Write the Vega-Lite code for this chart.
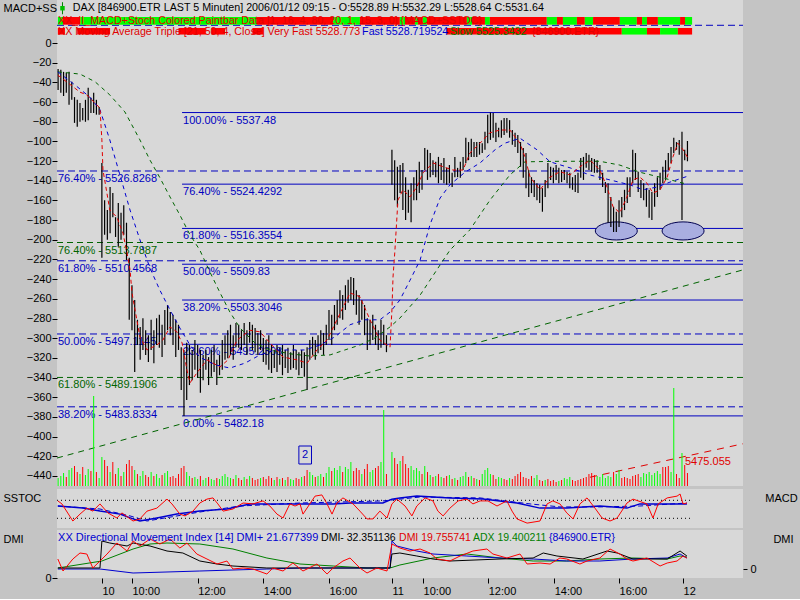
{
"$schema":"https://vega.github.io/schema/vega-lite/v6.json",
"background":"#c4c4c4",
"padding":{"left":3,"right":4,"top":0,"bottom":3},
"spacing":2,
"config":{"font":"Liberation Sans","view":{"stroke":null},
 "axis":{"labelFont":"Liberation Sans","labelFontSize":11,"labelColor":"#000","tickColor":"#000","domain":false,"grid":false,"titleFont":"Liberation Sans","titleFontSize":11,"titleFontWeight":"normal","titleColor":"#000","labelOverlap":false,"labelFlush":false},
 "text":{"font":"Liberation Sans","fontSize":11}},
"resolve":{"scale":{"x":"independent","y":"independent","color":"independent"}},
"datasets":{
"bars":[
{"t":-15,"h":5545.4,"l":5541.6,"v":8,"d":"g"},{"t":-14,"h":5545.3,"l":5541.1,"v":10,"d":"g"},{"t":-13,"h":5544.9,"l":5540.5,"v":13,"d":"g"},{"t":-12,"h":5544.7,"l":5541.1,"v":9,"d":"r"},{"t":-11,"h":5544.9,"l":5538.9,"v":16,"d":"g"},{"t":-10,"h":5543.1,"l":5539.8,"v":18,"d":"g"},{"t":-9,"h":5540.3,"l":5535.6,"v":20,"d":"r"},{"t":-8,"h":5539.8,"l":5534.9,"v":14,"d":"r"},{"t":-7,"h":5539.2,"l":5535.8,"v":12,"d":"g"},{"t":-6,"h":5538.3,"l":5536.1,"v":19,"d":"r"},{"t":-5,"h":5539.8,"l":5535.8,"v":11,"d":"g"},{"t":-4,"h":5542.0,"l":5536.1,"v":17,"d":"g"},{"t":-3,"h":5540.2,"l":5537.4,"v":15,"d":"r"},{"t":-2,"h":5541.1,"l":5537.4,"v":90,"d":"g"},{"t":-1,"h":5539.8,"l":5537.1,"v":14,"d":"r"},{"t":0,"h":5538.5,"l":5537.1,"v":8,"d":"g"},
{"t":1,"h":5528.3,"l":5511.0,"v":29,"d":"g"},{"t":2,"h":5521.5,"l":5515.2,"v":26,"d":"r"},{"t":3,"h":5519.7,"l":5514.3,"v":20,"d":"r"},{"t":4,"h":5523.9,"l":5515.5,"v":14,"d":"g"},{"t":5,"h":5522.8,"l":5518.4,"v":24,"d":"r"},{"t":6,"h":5518.4,"l":5514.8,"v":12,"d":"r"},{"t":7,"h":5521.0,"l":5513.0,"v":18,"d":"g"},{"t":8,"h":5519.2,"l":5514.3,"v":10,"d":"r"},{"t":9,"h":5520.6,"l":5515.2,"v":14,"d":"g"},{"t":10,"h":5517.4,"l":5510.6,"v":22,"d":"r"},
{"t":11,"h":5511.0,"l":5499.7,"v":26,"d":"r"},{"t":12,"h":5506.0,"l":5497.8,"v":20,"d":"r"},{"t":13,"h":5503.3,"l":5490.2,"v":16,"d":"g"},{"t":14,"h":5499.7,"l":5495.1,"v":12,"d":"r"},{"t":15,"h":5498.4,"l":5492.4,"v":10,"d":"g"},{"t":16,"h":5500.0,"l":5494.2,"v":15,"d":"g"},{"t":17,"h":5497.8,"l":5493.3,"v":11,"d":"r"},{"t":18,"h":5496.9,"l":5492.0,"v":9,"d":"r"},{"t":19,"h":5499.7,"l":5494.2,"v":14,"d":"g"},{"t":20,"h":5497.8,"l":5491.8,"v":10,"d":"r"},
{"t":21,"h":5500.0,"l":5495.1,"v":12,"d":"g"},{"t":22,"h":5500.6,"l":5494.6,"v":8,"d":"g"},{"t":23,"h":5498.8,"l":5492.9,"v":11,"d":"r"},{"t":24,"h":5501.5,"l":5495.1,"v":13,"d":"g"},{"t":25,"h":5502.4,"l":5497.8,"v":15,"d":"g"},{"t":26,"h":5501.1,"l":5496.9,"v":9,"d":"r"},{"t":27,"h":5500.6,"l":5495.1,"v":10,"d":"r"},{"t":28,"h":5499.7,"l":5492.9,"v":8,"d":"r"},{"t":29,"h":5498.8,"l":5494.2,"v":12,"d":"r"},{"t":30,"h":5494.7,"l":5486.9,"v":18,"d":"r"},
{"t":31,"h":5494.2,"l":5482.18,"v":20,"d":"r"},{"t":32,"h":5495.5,"l":5485.1,"v":14,"d":"g"},{"t":33,"h":5495.1,"l":5487.8,"v":10,"d":"g"},{"t":34,"h":5494.2,"l":5488.7,"v":8,"d":"r"},{"t":35,"h":5496.0,"l":5490.6,"v":9,"d":"g"},{"t":36,"h":5495.1,"l":5489.1,"v":7,"d":"g"},{"t":37,"h":5494.2,"l":5486.4,"v":10,"d":"r"},{"t":38,"h":5493.3,"l":5488.7,"v":6,"d":"g"},{"t":39,"h":5494.2,"l":5490.6,"v":8,"d":"g"},{"t":40,"h":5492.9,"l":5487.8,"v":9,"d":"r"},
{"t":41,"h":5494.2,"l":5489.3,"v":7,"d":"g"},{"t":42,"h":5495.1,"l":5490.2,"v":6,"d":"g"},{"t":43,"h":5492.4,"l":5487.8,"v":8,"d":"r"},{"t":44,"h":5493.3,"l":5489.6,"v":7,"d":"g"},{"t":45,"h":5496.0,"l":5490.6,"v":10,"d":"g"},{"t":46,"h":5496.9,"l":5492.4,"v":12,"d":"g"},{"t":47,"h":5497.8,"l":5492.7,"v":9,"d":"g"},{"t":48,"h":5498.8,"l":5493.3,"v":8,"d":"g"},{"t":49,"h":5496.9,"l":5492.4,"v":7,"d":"r"},{"t":50,"h":5499.1,"l":5494.7,"v":11,"d":"g"},
{"t":51,"h":5498.8,"l":5494.6,"v":8,"d":"r"},{"t":52,"h":5497.8,"l":5494.2,"v":6,"d":"r"},{"t":53,"h":5499.1,"l":5495.1,"v":9,"d":"g"},{"t":54,"h":5497.8,"l":5493.3,"v":7,"d":"r"},{"t":55,"h":5499.3,"l":5495.5,"v":10,"d":"g"},{"t":56,"h":5498.8,"l":5494.2,"v":8,"d":"r"},{"t":57,"h":5498.2,"l":5493.8,"v":6,"d":"r"},{"t":58,"h":5497.3,"l":5493.3,"v":7,"d":"r"},{"t":59,"h":5497.8,"l":5494.2,"v":8,"d":"g"},{"t":60,"h":5496.4,"l":5492.0,"v":9,"d":"r"},
{"t":61,"h":5496.0,"l":5491.5,"v":7,"d":"r"},{"t":62,"h":5496.9,"l":5490.6,"v":10,"d":"r"},{"t":63,"h":5495.1,"l":5490.0,"v":8,"d":"r"},{"t":64,"h":5494.2,"l":5490.9,"v":6,"d":"g"},{"t":65,"h":5495.1,"l":5490.2,"v":9,"d":"r"},{"t":66,"h":5494.6,"l":5491.5,"v":7,"d":"g"},{"t":67,"h":5495.1,"l":5489.6,"v":8,"d":"r"},{"t":68,"h":5494.2,"l":5490.9,"v":6,"d":"g"},{"t":69,"h":5494.6,"l":5490.0,"v":9,"d":"r"},{"t":70,"h":5493.8,"l":5490.6,"v":7,"d":"g"},
{"t":71,"h":5495.1,"l":5490.9,"v":6,"d":"g"},{"t":72,"h":5494.2,"l":5490.6,"v":8,"d":"r"},{"t":73,"h":5493.8,"l":5489.6,"v":7,"d":"r"},{"t":74,"h":5494.2,"l":5490.9,"v":9,"d":"g"},{"t":75,"h":5493.8,"l":5489.3,"v":10,"d":"r"},{"t":76,"h":5494.7,"l":5486.9,"v":16,"d":"r"},{"t":77,"h":5496.0,"l":5492.4,"v":14,"d":"g"},{"t":78,"h":5496.6,"l":5493.3,"v":11,"d":"g"},{"t":79,"h":5496.0,"l":5492.4,"v":9,"d":"r"},{"t":80,"h":5496.9,"l":5493.6,"v":10,"d":"g"},
{"t":81,"h":5497.8,"l":5494.2,"v":12,"d":"g"},{"t":82,"h":5497.3,"l":5493.3,"v":9,"d":"r"},{"t":83,"h":5498.8,"l":5495.1,"v":13,"d":"g"},{"t":84,"h":5501.5,"l":5496.0,"v":19,"d":"g"},{"t":85,"h":5500.6,"l":5495.1,"v":15,"d":"r"},{"t":86,"h":5502.4,"l":5497.8,"v":18,"d":"g"},{"t":87,"h":5503.3,"l":5498.8,"v":16,"d":"g"},{"t":88,"h":5505.1,"l":5500.0,"v":20,"d":"g"},{"t":89,"h":5504.2,"l":5499.7,"v":14,"d":"r"},{"t":90,"h":5506.0,"l":5501.5,"v":19,"d":"g"},
{"t":91,"h":5507.0,"l":5502.8,"v":17,"d":"g"},{"t":92,"h":5507.5,"l":5503.3,"v":24,"d":"g"},{"t":93,"h":5507.3,"l":5502.4,"v":15,"d":"r"},{"t":94,"h":5505.1,"l":5500.6,"v":18,"d":"r"},{"t":95,"h":5504.2,"l":5498.8,"v":16,"d":"r"},{"t":96,"h":5503.3,"l":5499.7,"v":12,"d":"g"},{"t":97,"h":5502.4,"l":5496.9,"v":17,"d":"r"},{"t":98,"h":5500.0,"l":5494.2,"v":22,"d":"r"},{"t":99,"h":5499.7,"l":5495.1,"v":14,"d":"g"},{"t":100,"h":5500.6,"l":5496.0,"v":16,"d":"g"},
{"t":101,"h":5498.8,"l":5495.1,"v":18,"d":"r"},{"t":102,"h":5497.8,"l":5494.2,"v":20,"d":"r"},{"t":103,"h":5499.7,"l":5494.6,"v":24,"d":"g"},{"t":104,"h":5498.8,"l":5495.1,"v":76,"d":"g"},{"t":105,"h":5496.9,"l":5493.8,"v":12,"d":"r"},
{"t":107,"h":5530.7,"l":5524.3,"v":34,"d":"g"},{"t":108,"h":5528.8,"l":5521.5,"v":28,"d":"r"},{"t":109,"h":5527.6,"l":5520.3,"v":22,"d":"r"},{"t":110,"h":5527.9,"l":5522.8,"v":25,"d":"g"},{"t":111,"h":5528.3,"l":5519.7,"v":30,"d":"r"},{"t":112,"h":5525.7,"l":5517.9,"v":22,"d":"r"},{"t":113,"h":5523.4,"l":5519.2,"v":18,"d":"r"},{"t":114,"h":5524.6,"l":5517.5,"v":20,"d":"g"},{"t":115,"h":5525.7,"l":5521.5,"v":16,"d":"g"},{"t":116,"h":5527.0,"l":5521.5,"v":18,"d":"g"},
{"t":117,"h":5528.5,"l":5522.8,"v":15,"d":"g"},{"t":118,"h":5527.0,"l":5523.4,"v":12,"d":"r"},{"t":119,"h":5531.0,"l":5527.0,"v":20,"d":"g"},{"t":120,"h":5530.7,"l":5525.2,"v":14,"d":"r"},{"t":121,"h":5530.1,"l":5525.7,"v":11,"d":"g"},{"t":122,"h":5528.8,"l":5526.1,"v":9,"d":"r"},{"t":123,"h":5528.5,"l":5525.7,"v":10,"d":"g"},{"t":124,"h":5529.4,"l":5524.6,"v":12,"d":"r"},{"t":125,"h":5528.3,"l":5525.2,"v":9,"d":"g"},{"t":126,"h":5529.2,"l":5524.6,"v":8,"d":"r"},
{"t":127,"h":5527.4,"l":5524.3,"v":10,"d":"r"},{"t":128,"h":5527.9,"l":5524.6,"v":11,"d":"g"},{"t":129,"h":5526.5,"l":5523.9,"v":7,"d":"r"},{"t":130,"h":5529.4,"l":5525.7,"v":8,"d":"g"},{"t":131,"h":5527.4,"l":5525.7,"v":6,"d":"r"},{"t":132,"h":5528.5,"l":5525.6,"v":9,"d":"g"},{"t":133,"h":5529.4,"l":5527.0,"v":10,"d":"g"},{"t":134,"h":5532.9,"l":5528.3,"v":14,"d":"g"},{"t":135,"h":5532.1,"l":5528.8,"v":9,"d":"r"},{"t":136,"h":5532.7,"l":5529.4,"v":10,"d":"g"},
{"t":137,"h":5532.1,"l":5529.4,"v":8,"d":"r"},{"t":138,"h":5532.1,"l":5529.4,"v":7,"d":"g"},{"t":139,"h":5532.1,"l":5529.8,"v":6,"d":"r"},{"t":140,"h":5531.9,"l":5530.1,"v":12,"d":"g"},{"t":141,"h":5534.0,"l":5530.7,"v":16,"d":"g"},{"t":142,"h":5537.1,"l":5531.9,"v":18,"d":"g"},{"t":143,"h":5537.48,"l":5532.5,"v":12,"d":"g"},{"t":144,"h":5537.4,"l":5532.9,"v":11,"d":"r"},{"t":145,"h":5535.6,"l":5532.1,"v":7,"d":"r"},{"t":146,"h":5534.7,"l":5533.0,"v":9,"d":"g"},
{"t":147,"h":5536.1,"l":5532.9,"v":8,"d":"g"},{"t":148,"h":5536.5,"l":5533.4,"v":7,"d":"r"},{"t":149,"h":5536.5,"l":5533.8,"v":6,"d":"r"},{"t":150,"h":5536.1,"l":5532.9,"v":8,"d":"g"},{"t":151,"h":5534.3,"l":5531.6,"v":7,"d":"r"},{"t":152,"h":5533.8,"l":5531.2,"v":10,"d":"r"},{"t":153,"h":5533.4,"l":5530.1,"v":12,"d":"r"},{"t":154,"h":5532.1,"l":5527.6,"v":14,"d":"r"},{"t":155,"h":5531.0,"l":5525.6,"v":9,"d":"r"},{"t":156,"h":5530.1,"l":5523.7,"v":8,"d":"r"},
{"t":157,"h":5527.0,"l":5522.1,"v":7,"d":"r"},{"t":158,"h":5525.7,"l":5522.8,"v":10,"d":"r"},{"t":159,"h":5525.2,"l":5522.1,"v":8,"d":"g"},{"t":160,"h":5524.6,"l":5521.5,"v":11,"d":"g"},{"t":161,"h":5524.3,"l":5521.0,"v":6,"d":"r"},{"t":162,"h":5523.7,"l":5519.4,"v":5,"d":"r"},{"t":163,"h":5525.2,"l":5522.1,"v":6,"d":"g"},{"t":164,"h":5528.3,"l":5523.7,"v":7,"d":"r"},{"t":165,"h":5527.6,"l":5525.2,"v":5,"d":"r"},{"t":166,"h":5527.4,"l":5524.6,"v":6,"d":"r"},
{"t":167,"h":5527.9,"l":5525.2,"v":4,"d":"r"},{"t":168,"h":5527.4,"l":5524.6,"v":5,"d":"g"},{"t":169,"h":5527.0,"l":5524.8,"v":6,"d":"r"},{"t":170,"h":5527.0,"l":5525.2,"v":8,"d":"g"},{"t":171,"h":5526.7,"l":5524.6,"v":7,"d":"g"},{"t":172,"h":5526.5,"l":5523.7,"v":9,"d":"g"},{"t":173,"h":5525.7,"l":5523.4,"v":6,"d":"r"},{"t":174,"h":5526.1,"l":5523.0,"v":5,"d":"r"},{"t":175,"h":5526.5,"l":5522.8,"v":6,"d":"r"},{"t":176,"h":5529.2,"l":5525.6,"v":7,"d":"r"},
{"t":177,"h":5529.4,"l":5525.2,"v":8,"d":"r"},{"t":178,"h":5530.1,"l":5527.4,"v":9,"d":"r"},{"t":179,"h":5529.8,"l":5527.0,"v":12,"d":"r"},{"t":180,"h":5529.2,"l":5526.7,"v":13,"d":"r"},{"t":181,"h":5529.0,"l":5526.5,"v":11,"d":"r"},{"t":182,"h":5528.8,"l":5526.5,"v":10,"d":"g"},{"t":183,"h":5527.9,"l":5525.2,"v":9,"d":"g"},{"t":184,"h":5526.5,"l":5523.9,"v":12,"d":"g"},{"t":185,"h":5524.8,"l":5522.8,"v":8,"d":"g"},{"t":186,"h":5524.6,"l":5517.4,"v":10,"d":"g"},
{"t":187,"h":5522.1,"l":5516.6,"v":9,"d":"g"},{"t":188,"h":5520.3,"l":5515.7,"v":14,"d":"r"},{"t":189,"h":5519.4,"l":5515.7,"v":12,"d":"g"},{"t":190,"h":5521.5,"l":5516.6,"v":16,"d":"g"},{"t":191,"h":5522.1,"l":5518.4,"v":8,"d":"r"},{"t":192,"h":5523.4,"l":5519.7,"v":9,"d":"r"},{"t":193,"h":5525.7,"l":5521.0,"v":8,"d":"r"},{"t":194,"h":5525.7,"l":5522.1,"v":7,"d":"r"},{"t":195,"h":5530.7,"l":5524.6,"v":10,"d":"r"},{"t":196,"h":5530.1,"l":5525.2,"v":11,"d":"r"},
{"t":197,"h":5526.7,"l":5523.0,"v":12,"d":"r"},{"t":198,"h":5525.2,"l":5521.9,"v":9,"d":"g"},{"t":199,"h":5524.6,"l":5521.5,"v":13,"d":"g"},{"t":200,"h":5523.7,"l":5520.3,"v":12,"d":"g"},{"t":201,"h":5523.4,"l":5518.3,"v":14,"d":"g"},{"t":202,"h":5523.0,"l":5517.9,"v":11,"d":"g"},{"t":203,"h":5524.6,"l":5520.3,"v":13,"d":"g"},{"t":204,"h":5525.7,"l":5522.1,"v":15,"d":"g"},{"t":205,"h":5526.5,"l":5523.4,"v":12,"d":"g"},{"t":206,"h":5527.6,"l":5524.6,"v":19,"d":"r"},
{"t":207,"h":5528.8,"l":5525.2,"v":19,"d":"r"},{"t":208,"h":5530.1,"l":5527.0,"v":20,"d":"r"},{"t":209,"h":5531.2,"l":5528.3,"v":14,"d":"g"},{"t":210,"h":5532.9,"l":5530.1,"v":98,"d":"g"},{"t":211,"h":5532.1,"l":5530.7,"v":12,"d":"r"},{"t":212,"h":5532.5,"l":5529.8,"v":8,"d":"r"},{"t":213,"h":5534.0,"l":5517.9,"v":33,"d":"g"},{"t":214,"h":5530.7,"l":5528.8,"v":21,"d":"r"},{"t":215,"h":5532.3,"l":5528.6,"v":13,"d":"r"}
],
"fib":[
{"s":"A","t0":30.3,"p":5537.48,"lab":"100.00% - 5537.48"},{"s":"A","t0":30.3,"p":5524.4292,"lab":"76.40% - 5524.4292"},{"s":"A","t0":30.3,"p":5516.3554,"lab":"61.80% - 5516.3554"},{"s":"A","t0":30.3,"p":5509.83,"lab":"50.00% - 5509.83"},{"s":"A","t0":30.3,"p":5503.3046,"lab":"38.20% - 5503.3046"},{"s":"A","t0":30.3,"p":5495.2308,"lab":"23.60% - 5495.2308"},{"s":"A","t0":30.3,"p":5482.18,"lab":"0.00% - 5482.18"},
{"s":"B","t0":-15.4,"p":5553.39,"lab":""},{"s":"B","t0":-15.4,"p":5526.8268,"lab":"76.40% - 5526.8268"},{"s":"B","t0":-15.4,"p":5510.4568,"lab":"61.80% - 5510.4568"},{"s":"B","t0":-15.4,"p":5497.1145,"lab":"50.00% - 5497.1145"},{"s":"B","t0":-15.4,"p":5483.8334,"lab":"38.20% - 5483.8334"},
{"s":"C","t0":-15.4,"p":5513.7887,"lab":"76.40% - 5513.7887"},{"s":"C","t0":-15.4,"p":5489.1906,"lab":"61.80% - 5489.1906"}
],
"trend":[{"g":"G","t":-15.4,"p":5474.5},{"g":"G","t":235.3,"p":5508.8},{"g":"R","t":179.4,"p":5471.0},{"g":"R","t":235.3,"p":5477.1}],
"ma":[
{"s":"vf","t":-15.1,"p":5544.3},{"s":"vf","t":-11.4,"p":5542.9},{"s":"vf","t":-7.0,"p":5541.2},{"s":"vf","t":-4.5,"p":5540.7},{"s":"vf","t":-1.5,"p":5539.2},{"s":"vf","t":0.3,"p":5538.3},{"s":"vf","t":1.0,"p":5532.5},{"s":"vf","t":1.4,"p":5527.0},{"s":"vf","t":3.9,"p":5519.7},{"s":"vf","t":6.5,"p":5518.4},{"s":"vf","t":8.7,"p":5515.5},{"s":"vf","t":10.2,"p":5511.9},{"s":"vf","t":11.3,"p":5508.8},{"s":"vf","t":12.0,"p":5504.6},{"s":"vf","t":14.9,"p":5496.6},{"s":"vf","t":17.5,"p":5494.2},{"s":"vf","t":21.1,"p":5495.1},{"s":"vf","t":23.3,"p":5496.0},{"s":"vf","t":25.9,"p":5498.4},{"s":"vf","t":28.4,"p":5497.5},{"s":"vf","t":30.3,"p":5495.5},{"s":"vf","t":32.1,"p":5490.5},{"s":"vf","t":33.2,"p":5488.2},{"s":"vf","t":35.7,"p":5490.0},{"s":"vf","t":39.4,"p":5492.4},{"s":"vf","t":44.2,"p":5491.1},{"s":"vf","t":47.1,"p":5492.4},{"s":"vf","t":50.4,"p":5496.0},{"s":"vf","t":55.1,"p":5497.8},{"s":"vf","t":58.8,"p":5497.5},{"s":"vf","t":62.4,"p":5495.5},{"s":"vf","t":67.2,"p":5492.9},{"s":"vf","t":72.3,"p":5492.4},{"s":"vf","t":76.0,"p":5491.8},{"s":"vf","t":79.6,"p":5494.2},{"s":"vf","t":83.3,"p":5496.0},{"s":"vf","t":86.9,"p":5499.7},{"s":"vf","t":91.7,"p":5504.6},{"s":"vf","t":95.3,"p":5503.9},{"s":"vf","t":99.0,"p":5499.7},{"s":"vf","t":102.6,"p":5496.0},{"s":"vf","t":106.3,"p":5494.7},{"s":"vf","t":107.0,"p":5501.5},{"s":"vf","t":107.4,"p":5507.5},{"s":"vf","t":108.1,"p":5512.4},{"s":"vf","t":109.2,"p":5521.5},{"s":"vf","t":111.0,"p":5523.4},{"s":"vf","t":113.6,"p":5522.1},{"s":"vf","t":116.1,"p":5523.9},{"s":"vf","t":118.4,"p":5526.5},{"s":"vf","t":122.0,"p":5528.3},{"s":"vf","t":125.7,"p":5527.6},{"s":"vf","t":129.3,"p":5527.0},{"s":"vf","t":133.0,"p":5527.0},{"s":"vf","t":135.5,"p":5530.1},{"s":"vf","t":139.2,"p":5531.9},{"s":"vf","t":142.8,"p":5533.8},{"s":"vf","t":146.5,"p":5534.3},{"s":"vf","t":150.1,"p":5534.3},{"s":"vf","t":153.8,"p":5531.9},{"s":"vf","t":155.6,"p":5529.4},{"s":"vf","t":157.5,"p":5525.7},{"s":"vf","t":161.1,"p":5523.4},{"s":"vf","t":164.8,"p":5525.7},{"s":"vf","t":168.4,"p":5526.7},{"s":"vf","t":172.1,"p":5526.1},{"s":"vf","t":175.7,"p":5527.6},{"s":"vf","t":179.4,"p":5528.8},{"s":"vf","t":183.0,"p":5527.0},{"s":"vf","t":185.6,"p":5523.9},{"s":"vf","t":187.8,"p":5520.3},{"s":"vf","t":190.3,"p":5519.2},{"s":"vf","t":192.9,"p":5522.1},{"s":"vf","t":195.1,"p":5525.2},{"s":"vf","t":197.6,"p":5525.7},{"s":"vf","t":200.2,"p":5524.6},{"s":"vf","t":202.4,"p":5522.8},{"s":"vf","t":205.0,"p":5523.4},{"s":"vf","t":207.6,"p":5525.7},{"s":"vf","t":209.7,"p":5529.4},{"s":"vf","t":211.5,"p":5531.9},{"s":"vf","t":213.4,"p":5530.7},{"s":"vf","t":215.2,"p":5529.2},
{"s":"f","t":-15.1,"p":5544.9},{"s":"f","t":-8.8,"p":5542.5},{"s":"f","t":-3.4,"p":5540.3},{"s":"f","t":0.3,"p":5538.0},{"s":"f","t":3.9,"p":5532.5},{"s":"f","t":7.6,"p":5526.1},{"s":"f","t":11.3,"p":5519.7},{"s":"f","t":14.9,"p":5514.3},{"s":"f","t":18.6,"p":5509.1},{"s":"f","t":22.2,"p":5505.1},{"s":"f","t":25.9,"p":5501.5},{"s":"f","t":29.5,"p":5498.2},{"s":"f","t":33.2,"p":5495.1},{"s":"f","t":36.8,"p":5492.9},{"s":"f","t":42.3,"p":5491.5},{"s":"f","t":47.8,"p":5490.9},{"s":"f","t":53.3,"p":5491.8},{"s":"f","t":58.8,"p":5493.3},{"s":"f","t":64.3,"p":5494.2},{"s":"f","t":69.7,"p":5494.2},{"s":"f","t":75.2,"p":5494.2},{"s":"f","t":80.7,"p":5495.1},{"s":"f","t":86.2,"p":5496.6},{"s":"f","t":91.7,"p":5498.8},{"s":"f","t":97.1,"p":5499.7},{"s":"f","t":102.6,"p":5499.7},{"s":"f","t":106.3,"p":5501.1},{"s":"f","t":109.9,"p":5503.3},{"s":"f","t":113.6,"p":5506.9},{"s":"f","t":117.3,"p":5510.6},{"s":"f","t":120.9,"p":5517.0},{"s":"f","t":124.6,"p":5521.9},{"s":"f","t":128.2,"p":5524.3},{"s":"f","t":133.7,"p":5526.6},{"s":"f","t":139.2,"p":5528.3},{"s":"f","t":144.7,"p":5530.7},{"s":"f","t":148.3,"p":5531.9},{"s":"f","t":153.8,"p":5532.8},{"s":"f","t":160.0,"p":5530.7},{"s":"f","t":164.8,"p":5528.5},{"s":"f","t":172.1,"p":5527.4},{"s":"f","t":179.4,"p":5526.1},{"s":"f","t":186.7,"p":5525.2},{"s":"f","t":194.0,"p":5524.3},{"s":"f","t":198.8,"p":5523.4},{"s":"f","t":203.9,"p":5523.9},{"s":"f","t":208.6,"p":5524.8},{"s":"f","t":213.4,"p":5525.6},{"s":"f","t":215.2,"p":5525.9},
{"s":"s","t":-15.1,"p":5544.9},{"s":"s","t":-7.0,"p":5544.5},{"s":"s","t":-1.5,"p":5543.1},{"s":"s","t":3.9,"p":5540.7},{"s":"s","t":9.4,"p":5537.6},{"s":"s","t":14.9,"p":5532.5},{"s":"s","t":18.6,"p":5528.8},{"s":"s","t":22.2,"p":5525.6},{"s":"s","t":25.9,"p":5522.1},{"s":"s","t":29.5,"p":5518.8},{"s":"s","t":33.2,"p":5515.2},{"s":"s","t":36.8,"p":5512.4},{"s":"s","t":40.5,"p":5508.4},{"s":"s","t":44.2,"p":5504.6},{"s":"s","t":47.8,"p":5501.1},{"s":"s","t":51.5,"p":5498.2},{"s":"s","t":56.9,"p":5495.5},{"s":"s","t":62.4,"p":5494.2},{"s":"s","t":69.7,"p":5493.5},{"s":"s","t":77.0,"p":5493.1},{"s":"s","t":84.4,"p":5493.3},{"s":"s","t":89.8,"p":5494.2},{"s":"s","t":95.3,"p":5495.1},{"s":"s","t":100.8,"p":5496.4},{"s":"s","t":106.3,"p":5498.4},{"s":"s","t":109.9,"p":5500.0},{"s":"s","t":117.3,"p":5504.2},{"s":"s","t":124.6,"p":5509.7},{"s":"s","t":128.2,"p":5512.4},{"s":"s","t":135.5,"p":5516.1},{"s":"s","t":142.8,"p":5521.5},{"s":"s","t":150.1,"p":5526.1},{"s":"s","t":155.6,"p":5528.5},{"s":"s","t":168.4,"p":5528.6},{"s":"s","t":183.0,"p":5528.6},{"s":"s","t":190.3,"p":5527.9},{"s":"s","t":197.6,"p":5526.6},{"s":"s","t":205.0,"p":5525.7},{"s":"s","t":213.4,"p":5524.6},{"s":"s","t":215.2,"p":5524.5}
],
"strip":[
{"r":1,"a":-15.1,"b":-13.2,"c":"g"},{"r":1,"a":-13.2,"b":-7,"c":"r"},{"r":1,"a":-7,"b":57.7,"c":"g"},{"r":1,"a":57.7,"b":85.5,"c":"r"},{"r":1,"a":85.5,"b":95.3,"c":"g"},{"r":1,"a":95.3,"b":109.9,"c":"r"},{"r":1,"a":109.9,"b":111.8,"c":"g"},{"r":1,"a":111.8,"b":115.4,"c":"r"},{"r":1,"a":115.4,"b":116.5,"c":"g"},{"r":1,"a":116.5,"b":118.3,"c":"r"},{"r":1,"a":118.3,"b":119.8,"c":"g"},{"r":1,"a":119.8,"b":134.4,"c":"r"},{"r":1,"a":134.4,"b":136.3,"c":"g"},{"r":1,"a":136.3,"b":141,"c":"r"},{"r":1,"a":141,"b":142.8,"c":"g"},{"r":1,"a":142.8,"b":163.6,"c":"r"},{"r":1,"a":163.6,"b":167.3,"c":"g"},{"r":1,"a":167.3,"b":169.5,"c":"r"},{"r":1,"a":169.5,"b":174.6,"c":"g"},{"r":1,"a":174.6,"b":177.5,"c":"r"},{"r":1,"a":177.5,"b":180.5,"c":"g"},{"r":1,"a":180.5,"b":190.3,"c":"r"},{"r":1,"a":190.3,"b":196.5,"c":"g"},{"r":1,"a":196.5,"b":198.4,"c":"r"},{"r":1,"a":198.4,"b":200.2,"c":"g"},{"r":1,"a":200.2,"b":204.2,"c":"r"},{"r":1,"a":204.2,"b":212.3,"c":"g"},{"r":1,"a":212.3,"b":214.1,"c":"r"},{"r":1,"a":214.1,"b":216.7,"c":"g"},
{"r":2,"a":-15.1,"b":-12.5,"c":"r"},{"r":2,"a":-8,"b":4,"c":"r"},{"r":2,"a":29,"b":39,"c":"r"},{"r":2,"a":41,"b":46,"c":"r"},{"r":2,"a":56,"b":60,"c":"r"},{"r":2,"a":127,"b":191,"c":"r"},{"r":2,"a":191,"b":200.2,"c":"g"},{"r":2,"a":200.2,"b":205,"c":"r"},{"r":2,"a":205,"b":211.5,"c":"g"},{"r":2,"a":211.5,"b":216.7,"c":"r"}
],
"sst":[
{"s":"k","t":-15.1,"v":78},{"s":"k","t":-13.6,"v":68},{"s":"k","t":-9.6,"v":11},{"s":"k","t":-7.0,"v":34},{"s":"k","t":-4.5,"v":54},{"s":"k","t":-2.3,"v":44},{"s":"k","t":0.3,"v":68},{"s":"k","t":3.2,"v":38},{"s":"k","t":6.5,"v":21},{"s":"k","t":8.3,"v":38},{"s":"k","t":12.4,"v":11},{"s":"k","t":14.9,"v":18},{"s":"k","t":17.5,"v":44},{"s":"k","t":21.1,"v":54},{"s":"k","t":24.8,"v":84},{"s":"k","t":26.6,"v":68},{"s":"k","t":29.5,"v":34},{"s":"k","t":31.4,"v":28},{"s":"k","t":34.3,"v":44},{"s":"k","t":36.8,"v":71},{"s":"k","t":39.4,"v":84},{"s":"k","t":41.6,"v":88},{"s":"k","t":43.4,"v":68},{"s":"k","t":45.3,"v":44},{"s":"k","t":48.9,"v":51},{"s":"k","t":52.6,"v":71},{"s":"k","t":56.2,"v":68},{"s":"k","t":59.9,"v":78},{"s":"k","t":62.4,"v":61},{"s":"k","t":65.0,"v":34},{"s":"k","t":67.2,"v":21},{"s":"k","t":69.7,"v":68},{"s":"k","t":71.6,"v":61},{"s":"k","t":73.4,"v":68},{"s":"k","t":74.5,"v":34},{"s":"k","t":77.0,"v":68},{"s":"k","t":78.9,"v":94},{"s":"k","t":81.4,"v":98},{"s":"k","t":83.3,"v":68},{"s":"k","t":85.1,"v":34},{"s":"k","t":86.9,"v":71},{"s":"k","t":89.1,"v":88},{"s":"k","t":92.8,"v":68},{"s":"k","t":95.3,"v":44},{"s":"k","t":97.9,"v":18},{"s":"k","t":100.1,"v":18},{"s":"k","t":102.6,"v":44},{"s":"k","t":105.2,"v":21},{"s":"k","t":107.0,"v":68},{"s":"k","t":108.8,"v":84},{"s":"k","t":111.8,"v":61},{"s":"k","t":114.3,"v":28},{"s":"k","t":116.1,"v":61},{"s":"k","t":119.1,"v":88},{"s":"k","t":122.0,"v":78},{"s":"k","t":123.8,"v":44},{"s":"k","t":125.7,"v":28},{"s":"k","t":128.2,"v":54},{"s":"k","t":131.2,"v":78},{"s":"k","t":134.4,"v":84},{"s":"k","t":136.6,"v":68},{"s":"k","t":139.2,"v":78},{"s":"k","t":142.1,"v":78},{"s":"k","t":145.4,"v":61},{"s":"k","t":149.0,"v":78},{"s":"k","t":150.9,"v":44},{"s":"k","t":152.7,"v":18},{"s":"k","t":156.4,"v":4},{"s":"k","t":161.1,"v":11},{"s":"k","t":163.7,"v":68},{"s":"k","t":165.8,"v":78},{"s":"k","t":168.4,"v":68},{"s":"k","t":170.9,"v":38},{"s":"k","t":173.2,"v":18},{"s":"k","t":175.7,"v":68},{"s":"k","t":178.3,"v":88},{"s":"k","t":181.2,"v":54},{"s":"k","t":183.8,"v":21},{"s":"k","t":186.7,"v":11},{"s":"k","t":189.3,"v":21},{"s":"k","t":192.9,"v":71},{"s":"k","t":195.1,"v":84},{"s":"k","t":200.2,"v":68},{"s":"k","t":202.4,"v":21},{"s":"k","t":204.3,"v":68},{"s":"k","t":207.6,"v":88},{"s":"k","t":211.2,"v":94},{"s":"k","t":212.3,"v":101},{"s":"k","t":213.4,"v":68},{"s":"k","t":214.8,"v":71},
{"s":"m","t":-15.1,"v":61},{"s":"m","t":-5.9,"v":54},{"s":"m","t":0.3,"v":44},{"s":"m","t":7.6,"v":34},{"s":"m","t":12.4,"v":18},{"s":"m","t":14.9,"v":11},{"s":"m","t":21.1,"v":21},{"s":"m","t":28.4,"v":34},{"s":"m","t":36.8,"v":44},{"s":"m","t":46.7,"v":51},{"s":"m","t":55.1,"v":68},{"s":"m","t":61.3,"v":68},{"s":"m","t":73.4,"v":68},{"s":"m","t":85.5,"v":68},{"s":"m","t":91.7,"v":71},{"s":"m","t":103.7,"v":71},{"s":"m","t":107.0,"v":84},{"s":"m","t":109.9,"v":88},{"s":"m","t":116.1,"v":94},{"s":"m","t":128.2,"v":88},{"s":"m","t":140.3,"v":84},{"s":"m","t":152.7,"v":71},{"s":"m","t":161.1,"v":54},{"s":"m","t":170.9,"v":54},{"s":"m","t":183.0,"v":61},{"s":"m","t":192.9,"v":54},{"s":"m","t":197.6,"v":68},{"s":"m","t":207.6,"v":68},{"s":"m","t":212.3,"v":68},{"s":"m","t":214.8,"v":68},
{"s":"q","t":-15.1,"v":61},{"s":"q","t":0.3,"v":51},{"s":"q","t":11.3,"v":28},{"s":"q","t":17.5,"v":11},{"s":"q","t":25.9,"v":24},{"s":"q","t":36.8,"v":41},{"s":"q","t":51.5,"v":61},{"s":"q","t":73.4,"v":71},{"s":"q","t":103.7,"v":78},{"s":"q","t":117.3,"v":91},{"s":"q","t":139.2,"v":88},{"s":"q","t":157.5,"v":68},{"s":"q","t":168.4,"v":58},{"s":"q","t":183.0,"v":58},{"s":"q","t":197.6,"v":61},{"s":"q","t":214.8,"v":71}
],
"dmi":[
{"s":"dn","t":-15.1,"v":20},{"s":"dn","t":0.3,"v":20},{"s":"dn","t":1.0,"v":74},{"s":"dn","t":3.9,"v":70},{"s":"dn","t":10.2,"v":64},{"s":"dn","t":12.4,"v":70},{"s":"dn","t":18.6,"v":64},{"s":"dn","t":24.8,"v":54},{"s":"dn","t":30.6,"v":50},{"s":"dn","t":36.8,"v":34},{"s":"dn","t":43.1,"v":28},{"s":"dn","t":48.9,"v":24},{"s":"dn","t":61.3,"v":20},{"s":"dn","t":106.3,"v":20},{"s":"dn","t":107.0,"v":48},{"s":"dn","t":109.9,"v":50},{"s":"dn","t":116.1,"v":44},{"s":"dn","t":122.0,"v":38},{"s":"dn","t":128.2,"v":34},{"s":"dn","t":146.5,"v":38},{"s":"dn","t":158.6,"v":40},{"s":"dn","t":162.3,"v":50},{"s":"dn","t":167.3,"v":44},{"s":"dn","t":176.8,"v":38},{"s":"dn","t":185.6,"v":54},{"s":"dn","t":189.3,"v":50},{"s":"dn","t":195.1,"v":38},{"s":"dn","t":207.6,"v":38},{"s":"dn","t":212.3,"v":54},{"s":"dn","t":214.8,"v":44},
{"s":"dp","t":-15.1,"v":18},{"s":"dp","t":0.3,"v":18},{"s":"dp","t":12.4,"v":10},{"s":"dp","t":36.8,"v":14},{"s":"dp","t":61.3,"v":18},{"s":"dp","t":73.4,"v":20},{"s":"dp","t":106.3,"v":20},{"s":"dp","t":107.0,"v":74},{"s":"dp","t":108.8,"v":64},{"s":"dp","t":116.1,"v":54},{"s":"dp","t":122.0,"v":48},{"s":"dp","t":134.4,"v":44},{"s":"dp","t":146.5,"v":40},{"s":"dp","t":158.6,"v":38},{"s":"dp","t":170.9,"v":34},{"s":"dp","t":183.0,"v":34},{"s":"dp","t":195.1,"v":38},{"s":"dp","t":207.6,"v":40},{"s":"dp","t":212.3,"v":48},{"s":"dp","t":214.8,"v":40},
{"s":"adx","t":-15.1,"v":20},{"s":"adx","t":-5.9,"v":28},{"s":"adx","t":1.0,"v":34},{"s":"adx","t":12.4,"v":58},{"s":"adx","t":18.6,"v":68},{"s":"adx","t":24.8,"v":70},{"s":"adx","t":36.8,"v":68},{"s":"adx","t":48.9,"v":58},{"s":"adx","t":61.3,"v":40},{"s":"adx","t":73.4,"v":28},{"s":"adx","t":85.5,"v":24},{"s":"adx","t":97.9,"v":20},{"s":"adx","t":106.3,"v":20},{"s":"adx","t":109.9,"v":26},{"s":"adx","t":122.0,"v":40},{"s":"adx","t":134.4,"v":48},{"s":"adx","t":146.5,"v":40},{"s":"adx","t":158.6,"v":34},{"s":"adx","t":170.9,"v":34},{"s":"adx","t":183.0,"v":38},{"s":"adx","t":195.1,"v":40},{"s":"adx","t":207.6,"v":38},{"s":"adx","t":212.3,"v":44},{"s":"adx","t":214.8,"v":42},
{"s":"dx","t":-15.1,"v":38},{"s":"dx","t":-13.2,"v":14},{"s":"dx","t":-9.6,"v":38},{"s":"dx","t":-7.0,"v":50},{"s":"dx","t":-4.5,"v":48},{"s":"dx","t":-2.3,"v":20},{"s":"dx","t":0.3,"v":34},{"s":"dx","t":2.9,"v":48},{"s":"dx","t":6.5,"v":70},{"s":"dx","t":10.2,"v":54},{"s":"dx","t":12.4,"v":74},{"s":"dx","t":14.9,"v":64},{"s":"dx","t":18.6,"v":78},{"s":"dx","t":22.2,"v":68},{"s":"dx","t":25.9,"v":78},{"s":"dx","t":29.5,"v":60},{"s":"dx","t":32.1,"v":70},{"s":"dx","t":35.7,"v":48},{"s":"dx","t":39.4,"v":38},{"s":"dx","t":43.1,"v":28},{"s":"dx","t":46.7,"v":34},{"s":"dx","t":48.9,"v":18},{"s":"dx","t":52.6,"v":20},{"s":"dx","t":56.2,"v":18},{"s":"dx","t":61.3,"v":8},{"s":"dx","t":63.5,"v":20},{"s":"dx","t":67.2,"v":14},{"s":"dx","t":70.8,"v":30},{"s":"dx","t":74.5,"v":14},{"s":"dx","t":79.6,"v":28},{"s":"dx","t":83.3,"v":8},{"s":"dx","t":85.5,"v":20},{"s":"dx","t":89.1,"v":34},{"s":"dx","t":91.7,"v":40},{"s":"dx","t":95.3,"v":20},{"s":"dx","t":97.9,"v":10},{"s":"dx","t":101.5,"v":20},{"s":"dx","t":105.2,"v":14},{"s":"dx","t":107.0,"v":68},{"s":"dx","t":109.9,"v":60},{"s":"dx","t":113.6,"v":54},{"s":"dx","t":117.3,"v":58},{"s":"dx","t":120.9,"v":50},{"s":"dx","t":123.5,"v":38},{"s":"dx","t":128.2,"v":34},{"s":"dx","t":131.9,"v":44},{"s":"dx","t":136.6,"v":54},{"s":"dx","t":141.7,"v":58},{"s":"dx","t":143.9,"v":48},{"s":"dx","t":149.0,"v":40},{"s":"dx","t":153.8,"v":48},{"s":"dx","t":156.4,"v":28},{"s":"dx","t":161.1,"v":30},{"s":"dx","t":164.8,"v":28},{"s":"dx","t":168.4,"v":40},{"s":"dx","t":170.9,"v":38},{"s":"dx","t":175.7,"v":28},{"s":"dx","t":178.3,"v":34},{"s":"dx","t":183.0,"v":40},{"s":"dx","t":186.7,"v":58},{"s":"dx","t":190.3,"v":48},{"s":"dx","t":192.9,"v":38},{"s":"dx","t":195.1,"v":34},{"s":"dx","t":200.2,"v":40},{"s":"dx","t":205.0,"v":24},{"s":"dx","t":207.6,"v":30},{"s":"dx","t":211.2,"v":34},{"s":"dx","t":213.4,"v":44},{"s":"dx","t":214.8,"v":40}
]
},
"vconcat":[
{
"width":686,"height":486,
"view":{"fill":"#d8d8d8"},
"resolve":{"scale":{"y":"independent"},"axis":{"y":"independent"}},
"layer":[
{"layer":[
 {"data":{"name":"fib"},"transform":[{"filter":"datum.s=='A'"}],"mark":{"type":"rule","color":"#0000c0","strokeWidth":1},
  "encoding":{"x":{"field":"t0","type":"quantitative","scale":{"domain":[-15.4,235.3],"nice":false,"zero":false},"axis":null},"x2":{"datum":235.3},
   "y":{"field":"p","type":"quantitative","scale":{"domain":[5469.4,5558.0],"nice":false,"zero":false},
    "axis":{"orient":"right","values":[5472.5,5475,5477.5,5480,5482.5,5485,5487.5,5490,5492.5,5495,5497.5,5500,5502.5,5505,5507.5,5510,5512.5,5515,5517.5,5520,5522.5,5525,5527.5,5530,5532.5,5535,5537.5,5540,5542.5,5545,5547.5,5550],
     "labelExpr":"replace(format(datum.value,'.1f'),'.',',')","tickSize":4,"labelPadding":3,"title":"EUR","titleAngle":0,"titleX":24,"titleY":10,"titleAlign":"center","titleBaseline":"middle"}}}},
 {"data":{"name":"fib"},"transform":[{"filter":"datum.s=='B'"}],"mark":{"type":"rule","color":"#0000c0","strokeWidth":1,"strokeDash":[7,4]},
  "encoding":{"x":{"field":"t0","type":"quantitative","scale":{"domain":[-15.4,235.3],"nice":false,"zero":false},"axis":null},"x2":{"datum":235.3},
   "y":{"field":"p","type":"quantitative","scale":{"domain":[5469.4,5558.0],"nice":false,"zero":false},"axis":null}}},
 {"data":{"name":"fib"},"transform":[{"filter":"datum.s=='C'"}],"mark":{"type":"rule","color":"#006400","strokeWidth":1,"strokeDash":[6,4]},
  "encoding":{"x":{"field":"t0","type":"quantitative","scale":{"domain":[-15.4,235.3],"nice":false,"zero":false},"axis":null},"x2":{"datum":235.3},
   "y":{"field":"p","type":"quantitative","scale":{"domain":[5469.4,5558.0],"nice":false,"zero":false},"axis":null}}},
 {"data":{"name":"fib"},"mark":{"type":"text","align":"left","baseline":"middle","dx":1,"dy":8,"fontSize":11},
  "encoding":{"x":{"field":"t0","type":"quantitative","scale":{"domain":[-15.4,235.3],"nice":false,"zero":false},"axis":null},
   "y":{"field":"p","type":"quantitative","scale":{"domain":[5469.4,5558.0],"nice":false,"zero":false},"axis":null},
   "text":{"field":"lab"},
   "color":{"condition":{"test":"datum.s=='C'","value":"#006400"},"value":"#0000c0"}}},
 {"data":{"name":"trend"},"transform":[{"filter":"datum.g=='G'"}],"mark":{"type":"line","color":"#006400","strokeWidth":1,"strokeDash":[6,5]},
  "encoding":{"x":{"field":"t","type":"quantitative","scale":{"domain":[-15.4,235.3],"nice":false,"zero":false},"axis":null},
   "y":{"field":"p","type":"quantitative","scale":{"domain":[5469.4,5558.0],"nice":false,"zero":false},"axis":null}}},
 {"data":{"name":"trend"},"transform":[{"filter":"datum.g=='R'"}],"mark":{"type":"line","color":"#e00000","strokeWidth":1,"strokeDash":[7,6]},
  "encoding":{"x":{"field":"t","type":"quantitative","scale":{"domain":[-15.4,235.3],"nice":false,"zero":false},"axis":null},
   "y":{"field":"p","type":"quantitative","scale":{"domain":[5469.4,5558.0],"nice":false,"zero":false},"axis":null}}},
 {"data":{"values":[{"t":214.1,"p":5473.8,"lab":"5475.055"}]},"mark":{"type":"text","align":"left","baseline":"middle","color":"#e00000","fontSize":11},
  "encoding":{"x":{"field":"t","type":"quantitative","scale":{"domain":[-15.4,235.3],"nice":false,"zero":false},"axis":null},
   "y":{"field":"p","type":"quantitative","scale":{"domain":[5469.4,5558.0],"nice":false,"zero":false},"axis":null},"text":{"field":"lab"}}},
 {"data":{"values":[{"t":189.0,"p":5515.9},{"t":213.4,"p":5515.9}]},"mark":{"type":"point","shape":"M -1 0 A 1 0.43 0 1 0 1 0 A 1 0.43 0 1 0 -1 0 Z","size":1764,"filled":true,"fill":"#a9aee0","stroke":"#000050","strokeWidth":1,"opacity":1},
  "encoding":{"x":{"field":"t","type":"quantitative","scale":{"domain":[-15.4,235.3],"nice":false,"zero":false},"axis":null},
   "y":{"field":"p","type":"quantitative","scale":{"domain":[5469.4,5558.0],"nice":false,"zero":false},"axis":null}}},
 {"data":{"values":[{"t":75.3,"p":5475.05,"lab":"2"}]},"mark":{"type":"point","shape":"M -0.7 -1 L 0.7 -1 L 0.7 1 L -0.7 1 Z","size":324,"filled":false,"stroke":"#0000c0","strokeWidth":1,"opacity":1},
  "encoding":{"x":{"field":"t","type":"quantitative","scale":{"domain":[-15.4,235.3],"nice":false,"zero":false},"axis":null},
   "y":{"field":"p","type":"quantitative","scale":{"domain":[5469.4,5558.0],"nice":false,"zero":false},"axis":null}}},
 {"data":{"values":[{"t":75.3,"p":5475.05,"lab":"2"}]},"mark":{"type":"text","align":"center","baseline":"middle","color":"#0000c0","fontSize":11},
  "encoding":{"x":{"field":"t","type":"quantitative","scale":{"domain":[-15.4,235.3],"nice":false,"zero":false},"axis":null},
   "y":{"field":"p","type":"quantitative","scale":{"domain":[5469.4,5558.0],"nice":false,"zero":false},"axis":null},"text":{"field":"lab"}}},
 {"data":{"name":"bars"},"mark":{"type":"rule","color":"#000000","strokeWidth":1.2},
  "encoding":{"x":{"field":"t","type":"quantitative","scale":{"domain":[-15.4,235.3],"nice":false,"zero":false},"axis":null},
   "y":{"field":"h","type":"quantitative","scale":{"domain":[5469.4,5558.0],"nice":false,"zero":false},"axis":null},"y2":{"field":"l"}}},
 {"data":{"name":"ma"},"transform":[{"filter":"datum.s=='s'"}],"mark":{"type":"line","color":"#006400","strokeWidth":1,"strokeDash":[4,4]},
  "encoding":{"x":{"field":"t","type":"quantitative","scale":{"domain":[-15.4,235.3],"nice":false,"zero":false},"axis":null},
   "y":{"field":"p","type":"quantitative","scale":{"domain":[5469.4,5558.0],"nice":false,"zero":false},"axis":null}}},
 {"data":{"name":"ma"},"transform":[{"filter":"datum.s=='f'"}],"mark":{"type":"line","color":"#0000d0","strokeWidth":1,"strokeDash":[4,4]},
  "encoding":{"x":{"field":"t","type":"quantitative","scale":{"domain":[-15.4,235.3],"nice":false,"zero":false},"axis":null},
   "y":{"field":"p","type":"quantitative","scale":{"domain":[5469.4,5558.0],"nice":false,"zero":false},"axis":null}}},
 {"data":{"name":"ma"},"transform":[{"filter":"datum.s=='vf'"}],"mark":{"type":"line","color":"#e00000","strokeWidth":1,"strokeDash":[4,3]},
  "encoding":{"x":{"field":"t","type":"quantitative","scale":{"domain":[-15.4,235.3],"nice":false,"zero":false},"axis":null},
   "y":{"field":"p","type":"quantitative","scale":{"domain":[5469.4,5558.0],"nice":false,"zero":false},"axis":null}}},
 {"data":{"name":"strip"},"transform":[{"filter":"datum.r==1"}],"mark":{"type":"rect"},
  "encoding":{"x":{"field":"a","type":"quantitative","scale":{"domain":[-15.4,235.3],"nice":false,"zero":false},"axis":null},"x2":{"field":"b"},
   "y":{"datum":5554.9,"type":"quantitative","scale":{"domain":[5469.4,5558.0],"nice":false,"zero":false},"axis":null},"y2":{"datum":5553.5},
   "color":{"field":"c","type":"nominal","scale":{"domain":["g","r"],"range":["#00ff00","#ff0000"]},"legend":null}}},
 {"data":{"name":"strip"},"transform":[{"filter":"datum.r==2"}],"mark":{"type":"rect"},
  "encoding":{"x":{"field":"a","type":"quantitative","scale":{"domain":[-15.4,235.3],"nice":false,"zero":false},"axis":null},"x2":{"field":"b"},
   "y":{"datum":5552.9,"type":"quantitative","scale":{"domain":[5469.4,5558.0],"nice":false,"zero":false},"axis":null},"y2":{"datum":5551.7},
   "color":{"field":"c","type":"nominal","scale":{"domain":["g","r"],"range":["#00ff00","#ff0000"]},"legend":null}}},
 {"data":{"values":[{"t":-9.6,"p":5556.6,"lab":"DAX [846900.ETR LAST 5 Minuten] 2006/01/12 09:15 - O:5528.89 H:5532.29 L:5528.64 C:5531.64","c":"#000000"},
   {"t":-15.0,"p":5554.2,"lab":"XX_II_MACD+Stoch Colored Paintbar Data [1, 16, 4, 80, 20, 1, 15, 3, 0] {MACD+SSTOC}","c":"#e00000"},
   {"t":-15.0,"p":5552.2,"lab":"XX Moving Average Triple [21, 50, 4, Close] Very Fast 5528.773","c":"#e00000"},
   {"t":96.1,"p":5552.2,"lab":"Fast 5528.719524","c":"#0000d0"},
   {"t":128.2,"p":5552.2,"lab":"Slow 5525.3432","c":"#008000"},
   {"t":158.2,"p":5552.2,"lab":"{846900.ETR}","c":"#e00000"}]},
  "mark":{"type":"text","align":"left","baseline":"middle","fontSize":10.7},
  "encoding":{"x":{"field":"t","type":"quantitative","scale":{"domain":[-15.4,235.3],"nice":false,"zero":false},"axis":null},
   "y":{"field":"p","type":"quantitative","scale":{"domain":[5469.4,5558.0],"nice":false,"zero":false},"axis":null},
   "text":{"field":"lab"},"color":{"field":"c","type":"nominal","scale":null}}},
 {"data":{"values":[{"t":-13.4,"p":5557.6,"p2":5555.4}]},"mark":{"type":"rule","color":"#008000","strokeWidth":1},
  "encoding":{"x":{"field":"t","type":"quantitative","scale":{"domain":[-15.4,235.3],"nice":false,"zero":false},"axis":null},
   "y":{"field":"p","type":"quantitative","scale":{"domain":[5469.4,5558.0],"nice":false,"zero":false},"axis":null},"y2":{"field":"p2"}}},
 {"data":{"values":[{"t":-13.4,"p":5556.5}]},"mark":{"type":"square","size":20,"filled":true,"color":"#00c000","opacity":1},
  "encoding":{"x":{"field":"t","type":"quantitative","scale":{"domain":[-15.4,235.3],"nice":false,"zero":false},"axis":null},
   "y":{"field":"p","type":"quantitative","scale":{"domain":[5469.4,5558.0],"nice":false,"zero":false},"axis":null}}}
]},
{"data":{"name":"bars"},"mark":{"type":"rule","strokeWidth":1},
 "encoding":{"x":{"field":"t","type":"quantitative","scale":{"domain":[-15.4,235.3],"nice":false,"zero":false},"axis":null},
  "y":{"field":"v","type":"quantitative","scale":{"domain":[0,486],"nice":false,"zero":false},"axis":null},"y2":{"datum":0},
  "color":{"field":"d","type":"nominal","scale":{"domain":["g","r"],"range":["#00ff00","#ff0000"]},"legend":null}}},
{"data":{"values":[{"L":0}]},"mark":{"type":"point","opacity":0},
 "encoding":{"x":{"datum":0,"type":"quantitative","scale":{"domain":[-15.4,235.3],"nice":false,"zero":false},"axis":null},
  "y":{"field":"L","type":"quantitative","scale":{"domain":[-450.2,43.7],"nice":false,"zero":false},
   "axis":{"orient":"left","values":[-440,-420,-400,-380,-360,-340,-320,-300,-280,-260,-240,-220,-200,-180,-160,-140,-120,-100,-80,-60,-40,-20,0],"tickSize":5,"labelPadding":1,"title":"MACD+SS","titleAngle":0,"titleX":-54,"titleY":8,"titleAlign":"left","titleBaseline":"middle"}}}}
]
},
{
"width":686,"height":39,
"view":{"fill":"#d8d8d8"},
"resolve":{"axis":{"y":"independent"}},
"layer":[
 {"data":{"values":[{"v":80},{"v":20}]},"mark":{"type":"rule","color":"#000000","strokeWidth":1,"strokeDash":[1,3]},
  "encoding":{"x":{"datum":-15.4,"type":"quantitative","scale":{"domain":[-15.4,235.3],"nice":false,"zero":false},"axis":null},"x2":{"datum":216.3},
   "y":{"field":"v","type":"quantitative","scale":{"domain":[-12.3,117.7],"nice":false,"zero":false},
    "axis":{"orient":"left","labels":false,"ticks":false,"title":"SSTOC","titleAngle":0,"titleX":-54,"titleY":9,"titleAlign":"left","titleBaseline":"middle"}}}},
 {"data":{"name":"sst"},"transform":[{"filter":"datum.s=='q'"}],"mark":{"type":"line","color":"#0000d0","strokeWidth":1,"strokeDash":[5,3]},
  "encoding":{"x":{"field":"t","type":"quantitative","scale":{"domain":[-15.4,235.3],"nice":false,"zero":false},"axis":null},
   "y":{"field":"v","type":"quantitative","scale":{"domain":[-12.3,117.7],"nice":false,"zero":false},
    "axis":{"orient":"right","labels":false,"ticks":false,"title":"MACD","titleAngle":0,"titleX":38,"titleY":9,"titleAlign":"center","titleBaseline":"middle"}}}},
 {"data":{"name":"sst"},"transform":[{"filter":"datum.s=='m'"}],"mark":{"type":"line","color":"#0000d0","strokeWidth":1.5},
  "encoding":{"x":{"field":"t","type":"quantitative","scale":{"domain":[-15.4,235.3],"nice":false,"zero":false},"axis":null},
   "y":{"field":"v","type":"quantitative","scale":{"domain":[-12.3,117.7],"nice":false,"zero":false},"axis":null}}},
 {"data":{"name":"sst"},"transform":[{"filter":"datum.s=='k'"}],"mark":{"type":"line","color":"#ff0000","strokeWidth":1},
  "encoding":{"x":{"field":"t","type":"quantitative","scale":{"domain":[-15.4,235.3],"nice":false,"zero":false},"axis":null},
   "y":{"field":"v","type":"quantitative","scale":{"domain":[-12.3,117.7],"nice":false,"zero":false},"axis":null}}}
]
},
{
"width":686,"height":48,
"view":{"fill":"#d8d8d8"},
"resolve":{"axis":{"y":"independent"}},
"encoding":{"x":{"field":"t","type":"quantitative","scale":{"domain":[-15.4,235.3],"nice":false,"zero":false},
    "axis":{"orient":"bottom","values":[1,12,36,60,84,107,118.4,142.2,166.3,190,213.4],"labelExpr":"datum.value==1?'10':datum.value==107?'11':datum.value==213.4?'12':(datum.value==12||datum.value==118.4)?'10:00':(datum.value==36||datum.value==142.2)?'12:00':(datum.value==60||datum.value==166.3)?'14:00':'16:00'","tickSize":5,"labelAlign":"left","labelBaseline":"top","labelPadding":2,"title":""}}},
"layer":[
 {"data":{"name":"dmi"},"transform":[{"filter":"datum.s=='adx'"}],"mark":{"type":"line","color":"#008000","strokeWidth":1},
  "encoding":{
   "y":{"field":"v","type":"quantitative","scale":{"domain":[0,96],"nice":false,"zero":false},
    "axis":{"orient":"left","values":[0],"tickSize":5,"labelPadding":1,"title":"DMI","titleAngle":0,"titleX":-54,"titleY":9,"titleAlign":"left","titleBaseline":"middle"}}}},
 {"data":{"name":"dmi"},"transform":[{"filter":"datum.s=='dp'"}],"mark":{"type":"line","color":"#0000d0","strokeWidth":1},
  "encoding":{
   "y":{"field":"v","type":"quantitative","scale":{"domain":[0,96],"nice":false,"zero":false},
    "axis":{"orient":"right","values":[18],"labelExpr":"'0'","tickSize":4,"labelPadding":3,"title":"DMI","titleAngle":0,"titleX":40,"titleY":9,"titleAlign":"center","titleBaseline":"middle"}}}},
 {"data":{"name":"dmi"},"transform":[{"filter":"datum.s=='dn'"}],"mark":{"type":"line","color":"#000000","strokeWidth":1},
  "encoding":{
   "y":{"field":"v","type":"quantitative","scale":{"domain":[0,96],"nice":false,"zero":false},"axis":null}}},
 {"data":{"name":"dmi"},"transform":[{"filter":"datum.s=='dx'"}],"mark":{"type":"line","color":"#ff0000","strokeWidth":1},
  "encoding":{
   "y":{"field":"v","type":"quantitative","scale":{"domain":[0,96],"nice":false,"zero":false},"axis":null}}},
 {"data":{"values":[{"t":-15.0,"lab":"XX Directional Movement Index [14] DMI+ 21.677399","c":"#0000d0"}]},
  "mark":{"type":"text","align":"left","baseline":"middle","fontSize":11},
  "encoding":{
   "y":{"datum":80,"type":"quantitative","scale":{"domain":[0,96],"nice":false,"zero":false},"axis":null},
   "text":{"field":"lab"},"color":{"field":"c","type":"nominal","scale":null}}},
 {"data":{"values":[{"t":81.1,"lab":"DMI- 32.351136","c":"#000000"},{"t":109.6,"lab":"DMI 19.755741","c":"#e00000"},{"t":136.6,"lab":"ADX 19.400211","c":"#008000"},{"t":164.4,"lab":"{846900.ETR}","c":"#0000d0"}]},
  "mark":{"type":"text","align":"left","baseline":"middle","fontSize":10.5},
  "encoding":{
   "y":{"datum":80,"type":"quantitative","scale":{"domain":[0,96],"nice":false,"zero":false},"axis":null},
   "text":{"field":"lab"},"color":{"field":"c","type":"nominal","scale":null}}}
]
}
]
}
